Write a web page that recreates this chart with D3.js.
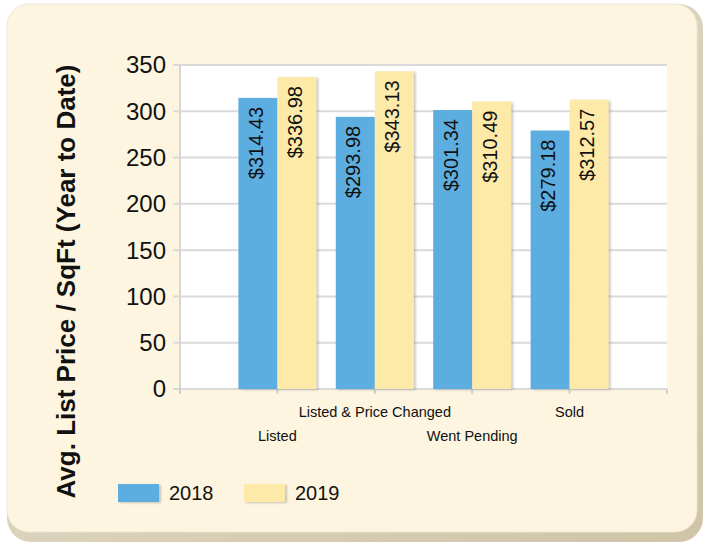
<!DOCTYPE html>
<html>
<head>
<meta charset="utf-8">
<script src="https://cdn.jsdelivr.net/npm/d3@7"></script>
<style>
  body { margin: 0; background: #fff; }
  text { font-family: Arial, "Liberation Sans", sans-serif; fill: #111; }
</style>
</head>
<body>
<svg id="chart" width="705" height="544"></svg>
<script>
var categories = ["Listed", "Listed & Price Changed", "Went Pending", "Sold"];
var seriesNames = ["2018", "2019"];
var values2018 = [314.43, 293.98, 301.34, 279.18];
var values2019 = [336.98, 343.13, 310.49, 312.57];
var yTicks = [0, 50, 100, 150, 200, 250, 300, 350];
var colors = ["#5daee0", "#fde9a8"];

var svg = d3.select("#chart"),
    width = +svg.attr("width"),
    height = +svg.attr("height");

var defs = svg.append("defs");
var shade = defs.append("linearGradient").attr("id", "rim")
    .attr("x1", 0).attr("y1", 0).attr("x2", 1).attr("y2", 1);
shade.append("stop").attr("offset", "0%").attr("stop-color", "#e6e0cf");
shade.append("stop").attr("offset", "100%").attr("stop-color", "#cfc4a6");

var shadow = defs.append("filter").attr("id", "barShadow")
    .attr("x", "-10%").attr("y", "-10%").attr("width", "130%").attr("height", "130%");
shadow.append("feDropShadow").attr("dx", 2).attr("dy", 1).attr("stdDeviation", 0.8)
    .attr("flood-color", "#888").attr("flood-opacity", 0.45);

// panel
svg.append("rect").attr("x", 7).attr("y", 4).attr("width", 696).attr("height", 538)
    .attr("rx", 24).attr("fill", "url(#rim)");
svg.append("rect").attr("x", 7).attr("y", 4).attr("width", 690).attr("height", 528)
    .attr("rx", 22).attr("fill", "#fdf5df").attr("stroke", "#ebe6d8").attr("stroke-width", 1);

var margin = {left: 180, right: 38, top: 65, bottom: 155};
var x0 = margin.left, x1 = width - margin.right;
var yTop = margin.top, yBottom = height - margin.bottom;

var x = d3.scalePoint()
    .domain([""].concat(categories).concat([" "]))
    .range([x0, x1]);

var y = d3.scaleLinear().domain([0, 350]).range([yBottom, yTop]);

var barW = 39;

svg.append("rect").attr("x", x0).attr("y", yTop)
    .attr("width", x1 - x0).attr("height", yBottom - yTop).attr("fill", "#fff");

// grid
svg.append("g").selectAll("line").data(yTicks).enter().append("line")
    .attr("x1", x0 - 7).attr("x2", x1)
    .attr("y1", function(d) { return y(d); }).attr("y2", function(d) { return y(d); })
    .attr("stroke", "#dadada").attr("stroke-width", 2);

svg.append("line").attr("x1", x0).attr("x2", x0).attr("y1", yTop).attr("y2", yBottom)
    .attr("stroke", "#d6d6d6").attr("stroke-width", 2);

// x axis ticks
svg.append("g").selectAll("line").data(x.domain()).enter().append("line")
    .attr("x1", function(d) { return x(d); }).attr("x2", function(d) { return x(d); })
    .attr("y1", yBottom).attr("y2", yBottom + 5)
    .attr("stroke", "#cfcfcf").attr("stroke-width", 2);

// y tick labels
svg.append("g").selectAll("text").data(yTicks).enter().append("text")
    .attr("x", x0 - 14).attr("y", function(d) { return y(d); })
    .attr("dy", "0.35em").attr("text-anchor", "end")
    .style("font-size", "24px")
    .text(function(d) { return d; });

// bars
var series = [values2018, values2019];
var groups = svg.append("g").selectAll("g").data(series).enter().append("g")
    .attr("fill", function(d, i) { return colors[i]; });

groups.each(function(vals, si) {
    var g = d3.select(this);
    g.selectAll("rect").data(vals).enter().append("rect")
        .attr("x", function(d, i) { return x(categories[i]) + (si - 1) * barW; })
        .attr("y", function(d) { return y(d); })
        .attr("width", barW)
        .attr("height", function(d) { return yBottom - y(d); })
        .attr("filter", "url(#barShadow)");
});

// value labels
groups.each(function(vals, si) {
    d3.select(this).selectAll("text").data(vals).enter().append("text")
        .attr("transform", function(d, i) {
            var cx = x(categories[i]) + (si - 0.5) * barW;
            return "translate(" + cx + "," + (y(d) + 9) + ") rotate(-90)";
        })
        .attr("text-anchor", "end")
        .attr("dy", "0.25em")
        .style("font-size", "20px")
        .style("fill", "#111")
        .text(function(d) { return "$" + d.toFixed(2); });
});

// category labels, staggered
svg.append("g").selectAll("text").data(categories).enter().append("text")
    .attr("x", function(d) { return x(d); })
    .attr("y", function(d, i) { return i % 2 === 0 ? yBottom + 52 : yBottom + 28; })
    .attr("text-anchor", "middle")
    .style("font-size", "14.5px")
    .text(function(d) { return d; });

// y title
svg.append("text")
    .attr("transform", "translate(75," + ((60 + 503) / 2) + ") rotate(-90)")
    .attr("text-anchor", "middle")
    .style("font-size", "26px").style("font-weight", "bold")
    .text("Avg. List Price / SqFt (Year to Date)");

// legend
var legend = svg.append("g").selectAll("g").data(seriesNames).enter().append("g")
    .attr("transform", function(d, i) { return "translate(" + (118 + i * 126) + ",484)"; });
legend.append("rect").attr("width", 41).attr("height", 18)
    .attr("fill", function(d, i) { return colors[i]; })
    .attr("filter", "url(#barShadow)");
legend.append("text").attr("x", 51).attr("y", 16)
    .style("font-size", "20px")
    .text(function(d) { return d; });
</script>
</body>
</html>
